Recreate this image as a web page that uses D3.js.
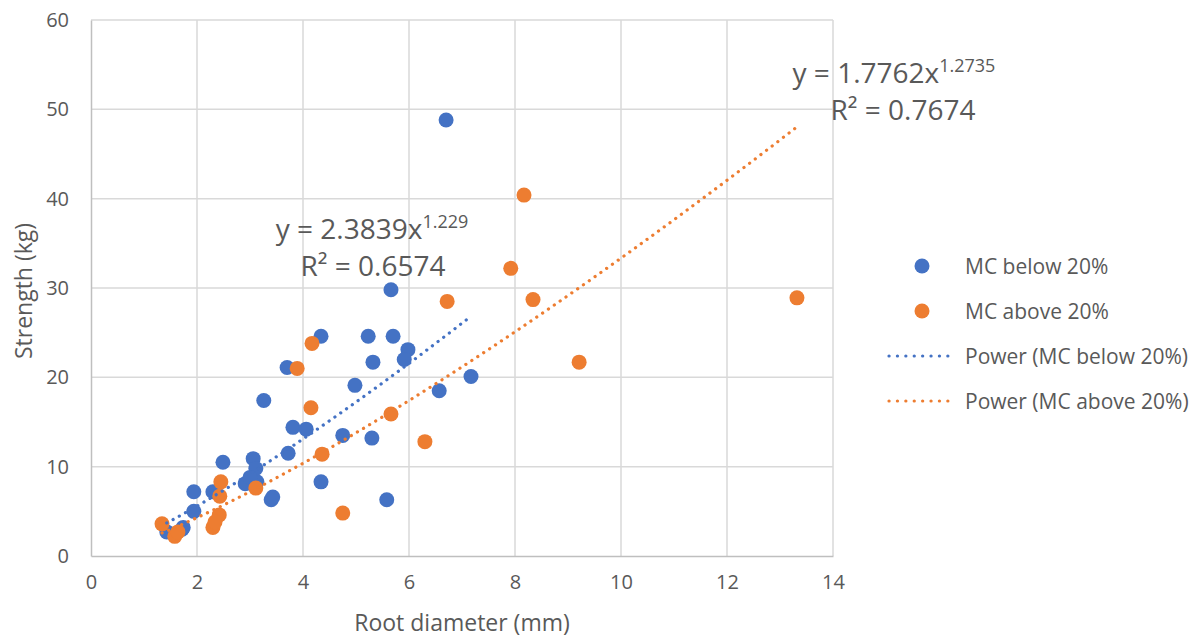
<!DOCTYPE html>
<html>
<head>
<meta charset="utf-8">
<script src="https://cdn.jsdelivr.net/npm/d3@7"></script>
<style>
  body { margin: 0; background: #fff; }
  text { font-family: "Open Sans", "Liberation Sans", sans-serif; fill: #595959; }
</style>
</head>
<body>
<svg width="1200" height="641"></svg>
<script>
// MC below 20%
var belowX = [6.70, 5.66, 5.70, 5.23, 4.34, 5.32, 5.98, 5.91, 3.70, 4.98, 7.17, 6.57, 3.26, 3.81, 4.06, 4.75,
              5.30, 3.72, 2.49, 3.06, 3.11, 2.91, 3.13, 3.00, 1.94, 2.30, 1.94, 3.40, 3.43, 4.34, 5.58,
              1.72, 1.43, 1.74];
var belowY = [48.8, 29.8, 24.6, 24.6, 24.6, 21.7, 23.1, 22.0, 21.1, 19.1, 20.1, 18.5, 17.4, 14.4, 14.2, 13.5,
              13.2, 11.5, 10.5, 10.9, 9.8, 8.1, 8.3, 8.8, 7.2, 7.2, 5.0, 6.3, 6.6, 8.3, 6.3,
              3.0, 2.7, 3.2];
// MC above 20%
var aboveX = [8.17, 7.92, 6.72, 8.34, 13.32, 9.21, 4.17, 3.89, 4.15, 5.66, 6.30, 4.36, 3.11, 4.75,
              2.45, 2.43, 2.42, 2.30, 2.34, 1.34, 1.58, 1.64];
var aboveY = [40.4, 32.2, 28.5, 28.7, 28.9, 21.7, 23.8, 21.0, 16.6, 15.9, 12.8, 11.4, 7.6, 4.8,
              8.3, 6.7, 4.6, 3.2, 3.8, 3.6, 2.2, 2.7];

// power trend lines y = a * x^b
var trendBelow = { a: 2.3839, b: 1.229, r2: "0.6574" };
var trendAbove = { a: 1.7762, b: 1.2735, r2: "0.7674" };

var xTicks = [0, 2, 4, 6, 8, 10, 12, 14];
var yTicks = [0, 10, 20, 30, 40, 50, 60];

var blue = "#4472C4", orange = "#ED7D31";

var svg = d3.select("svg");
var margin = { left: 91, top: 20, right: 833, bottom: 556 };

var x = d3.scaleLinear().domain([0, 14]).range([margin.left, margin.right]);
var y = d3.scaleLinear().domain([0, 60]).range([margin.bottom, margin.top]);

// gridlines
svg.append("g").selectAll("line").data(xTicks.slice(1)).enter().append("line")
    .attr("x1", function(d) { return x(d); }).attr("x2", function(d) { return x(d); })
    .attr("y1", y(0)).attr("y2", y(60))
    .attr("stroke", "#d9d9d9").attr("stroke-width", 1.5);
svg.append("g").selectAll("line").data(yTicks.slice(1)).enter().append("line")
    .attr("y1", function(d) { return y(d); }).attr("y2", function(d) { return y(d); })
    .attr("x1", x(0)).attr("x2", x(14))
    .attr("stroke", "#d9d9d9").attr("stroke-width", 1.5);

// axes
var xAxis = svg.append("g").attr("transform", "translate(0," + y(0) + ")")
    .call(d3.axisBottom(x).tickValues(xTicks).tickSize(0).tickPadding(19));
var yAxis = svg.append("g").attr("transform", "translate(" + x(0) + ",0)")
    .call(d3.axisLeft(y).tickValues(yTicks).tickSize(0).tickPadding(22));
[xAxis, yAxis].forEach(function(a) {
  a.select(".domain").attr("stroke", "#bfbfbf").attr("stroke-width", 1.5);
  a.selectAll("text").style("font-size", "20px").style("fill", "#595959")
      .style("font-family", "'Open Sans', sans-serif");
});

// axis titles
svg.append("text").attr("x", 462).attr("y", 631).attr("text-anchor", "middle")
    .style("font-size", "23px").text("Root diameter (mm)");
svg.append("text").attr("transform", "translate(32,291) rotate(-90)").attr("text-anchor", "middle")
    .style("font-size", "23px").text("Strength (kg)");

// trend lines
function trendPts(t, xs) {
  var lo = d3.min(xs), hi = d3.max(xs);
  return d3.range(0, 101).map(function(i) {
    var xv = lo + (hi - lo) * i / 100;
    return [xv, t.a * Math.pow(xv, t.b)];
  });
}
var line = d3.line().x(function(d) { return x(d[0]); }).y(function(d) { return y(d[1]); });

// points
function drawPts(xs, ys, col) {
  svg.append("g").selectAll("circle").data(xs).enter().append("circle")
      .attr("cx", function(d) { return x(d); })
      .attr("cy", function(d, i) { return y(ys[i]); })
      .attr("r", 7.5)
      .attr("fill", col);
}
drawPts(belowX, belowY, blue);
drawPts(aboveX, aboveY, orange);

[[trendBelow, belowX, blue], [trendAbove, aboveX, orange]].forEach(function(t) {
  svg.append("path").datum(trendPts(t[0], t[1])).attr("d", line)
      .attr("fill", "none").attr("stroke", t[2]).attr("stroke-width", 3.2)
      .attr("stroke-linecap", "round").attr("stroke-dasharray", "0.1,7");
});

// equations
function eq(t, cx, cy, cx2) {
  var g = svg.append("text").attr("x", cx).attr("y", cy).attr("text-anchor", "middle")
      .style("font-size", "28px");
  g.append("tspan").text("y = " + t.a + "x");
  g.append("tspan").attr("dy", -11).style("font-size", "18px").text(String(t.b));
  svg.append("text").attr("x", cx2).attr("y", cy + 37).attr("text-anchor", "middle")
      .style("font-size", "28px").text("R\u00B2 = " + t.r2);
}
eq(trendBelow, 372, 239, 373);
eq(trendAbove, 894, 83, 903);

// legend
var legend = [
  { label: "MC below 20%", col: blue, type: "pt" },
  { label: "MC above 20%", col: orange, type: "pt" },
  { label: "Power (MC below 20%)", col: blue, type: "ln" },
  { label: "Power (MC above 20%)", col: orange, type: "ln" }
];
var lg = svg.append("g").selectAll("g").data(legend).enter().append("g")
    .attr("transform", function(d, i) { return "translate(0," + (266 + i * 45) + ")"; });
lg.each(function(d) {
  var g = d3.select(this);
  if (d.type === "pt") {
    g.append("circle").attr("cx", 922).attr("cy", 0).attr("r", 7.5).attr("fill", d.col);
  } else {
    g.append("line").attr("x1", 889).attr("x2", 956).attr("y1", 0).attr("y2", 0)
        .attr("stroke", d.col).attr("stroke-width", 3.2)
        .attr("stroke-linecap", "round").attr("stroke-dasharray", "0.1,8.3");
  }
  g.append("text").attr("x", 965).attr("y", 8).style("font-size", "21px").text(d.label);
});
</script>
</body>
</html>
